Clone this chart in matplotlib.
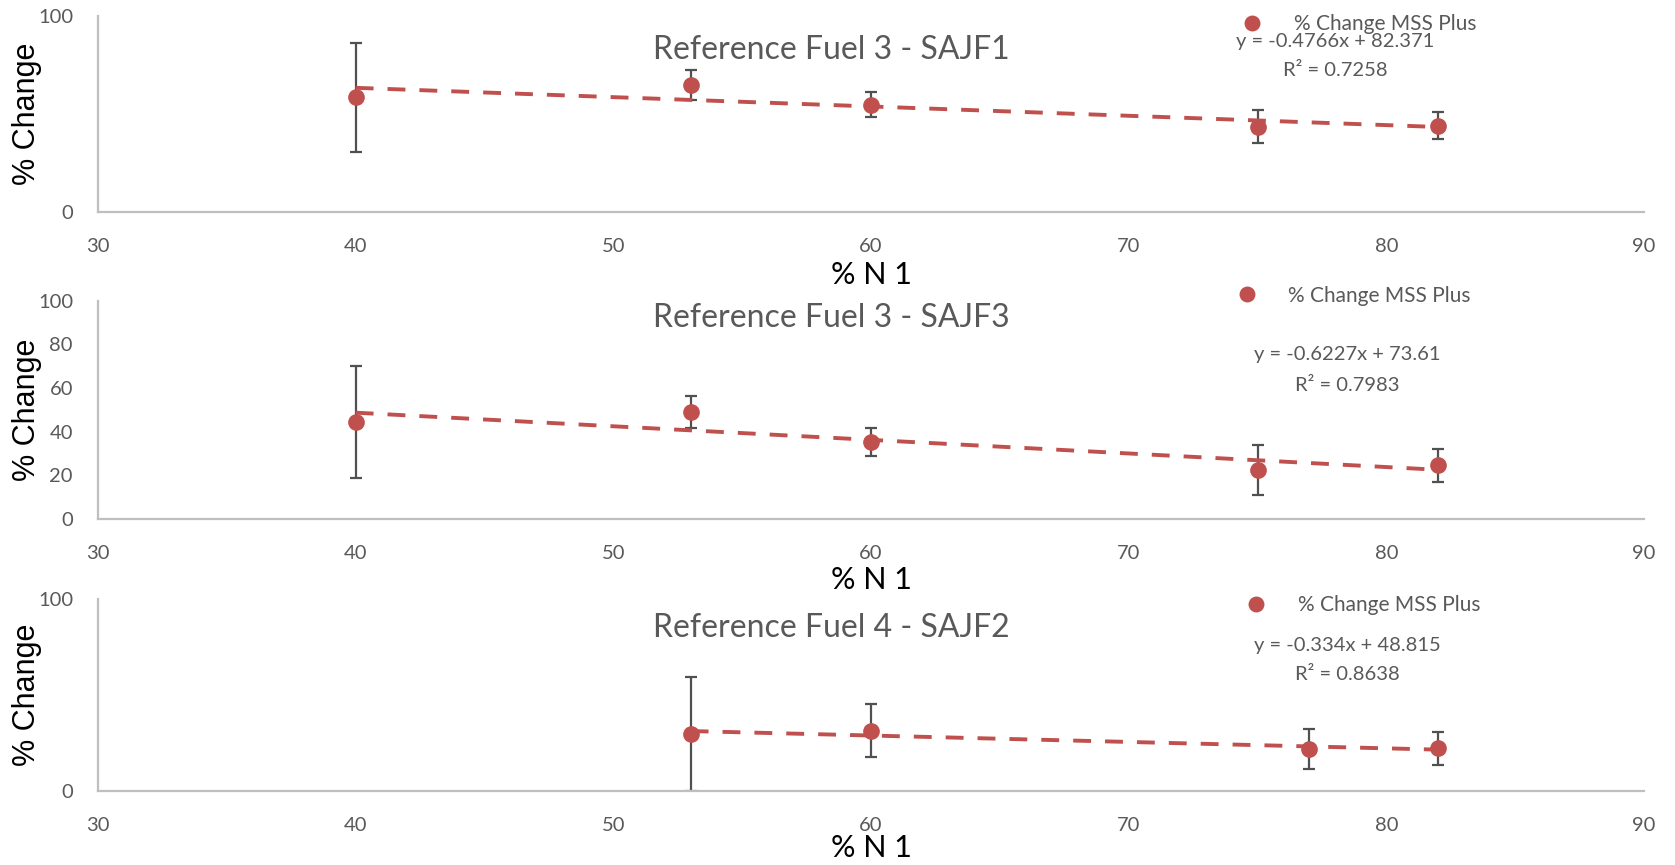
import matplotlib
matplotlib.use("Agg")
import matplotlib.pyplot as plt
import numpy as np

# ---------------- data ----------------
titles = ["Reference Fuel 3 - SAJF1", "Reference Fuel 3 - SAJF3", "Reference Fuel 4 - SAJF2"]

x1 = [40, 53, 60, 75, 82]
y1 = [58.4, 64.8, 54.6, 43.4, 43.8]
e1 = [28.0, 7.6, 6.4, 8.4, 6.9]

x2 = [40, 53, 60, 75, 82]
y2 = [44.6, 48.9, 35.1, 22.4, 24.6]
e2 = [25.7, 7.4, 6.4, 11.5, 7.5]

x3 = [53, 60, 77, 82]
y3 = [29.6, 31.3, 21.7, 22.1]
e3 = [29.5, 13.7, 10.4, 8.6]

slopes = [-0.4766, -0.6227, -0.334]
intercepts = [82.371, 73.61, 48.815]
eq_labels = ["y = -0.4766x + 82.371", "y = -0.6227x + 73.61", "y = -0.334x + 48.815"]
r2_labels = ["R² = 0.7258", "R² = 0.7983", "R² = 0.8638"]

yticks_list = [[0, 100], [0, 20, 40, 60, 80, 100], [0, 100]]
xticks = [30, 40, 50, 60, 70, 80, 90]
series_name = "% Change MSS Plus"
xlabel = "% N 1"
ylabel = "% Change"

# ---------------- style ----------------
RED = "#C0504D"
GRAY = "#595959"
AXC = "#BFBFBF"
CAL = ["Lato", "DejaVu Sans"]
W, H = 1675, 865
fig = plt.figure(figsize=(W / 100, H / 100), dpi=100)

# axes boxes in pixels: (left, top, right, bottom)
boxes = [(98, 16, 1644, 211.7), (98, 300.7, 1644, 519), (98, 599, 1644, 790.7)]
title_y = [50, 318, 628]
xlabel_base = [284, 589, 857]
leg_y = [24, 295.5, 605]
leg_x = [1252, 1246.5, 1256]
eq_pos = [(1335, 41.7), (1347, 355), (1347, 646)]
r2_pos = [(1335.5, 70), (1347.5, 385), (1347.5, 674)]

data = [(x1, y1, e1), (x2, y2, e2), (x3, y3, e3)]

for i, (xs, ys, es) in enumerate(data):
    l, t, r, b = boxes[i]
    ax = fig.add_axes([l / W, 1 - b / H, (r - l) / W, (b - t) / H])
    ax.set_xlim(30, 90)
    ax.set_ylim(0, 100)
    ax.set_xticks(xticks)
    ax.set_yticks(yticks_list[i])
    for s in ["top", "right"]:
        ax.spines[s].set_visible(False)
    for s in ["left", "bottom"]:
        ax.spines[s].set_color(AXC)
        ax.spines[s].set_linewidth(1.6)
    ax.tick_params(axis="both", length=0, colors=GRAY, labelsize=14.5)
    ax.tick_params(axis="x", pad=19)
    ax.tick_params(axis="y", pad=18)
    for lab in ax.get_xticklabels() + ax.get_yticklabels():
        lab.set_family(CAL)
    ax.patch.set_alpha(0)

    ax.errorbar(xs, ys, yerr=es, fmt="none", ecolor="#505050", elinewidth=1.6,
                capsize=4.5, capthick=1.6, zorder=2)
    h = ax.plot(xs, ys, "o", color=RED, markersize=11, zorder=3, label=series_name)[0]
    xx = np.array([min(xs), max(xs)], dtype=float)
    ax.plot(xx, slopes[i] * xx + intercepts[i], linestyle=(0, (4.6, 3.6)), color=RED,
            linewidth=2.8, zorder=4)

    # title
    fig.text(831.5 / W, 1 - title_y[i] / H, titles[i], ha="center", va="center",
             fontsize=23, color=GRAY, family=CAL)
    # x label
    fig.text(871 / W, 1 - xlabel_base[i] / H, xlabel, ha="center", va="baseline",
             fontsize=22, color="black", family=CAL)
    # y label
    fig.text(27 / W, 1 - ((t + b) / 2) / H, ylabel, ha="center", va="center",
             rotation=90, fontsize=22, color="black", family=["Liberation Sans", "DejaVu Sans"])
    # legend
    fs = 15
    em = fs * 100 / 72
    leg = ax.legend(handles=[h], loc="center left",
                    bbox_to_anchor=((leg_x[i] - em * 0.5) / W, 1 - leg_y[i] / H),
                    bbox_transform=fig.transFigure, frameon=False, borderpad=0,
                    borderaxespad=0, handlelength=1.0, handletextpad=1.5,
                    prop={"family": CAL, "size": fs}, markerscale=0.95)
    for txt in leg.get_texts():
        txt.set_color(GRAY)
    # equation
    fig.text(eq_pos[i][0] / W, 1 - eq_pos[i][1] / H, eq_labels[i], ha="center", va="center",
             fontsize=14.5, color=GRAY, family=CAL)
    fig.text(r2_pos[i][0] / W, 1 - r2_pos[i][1] / H, r2_labels[i], ha="center", va="center",
             fontsize=14.5, color=GRAY, family=CAL)

fig.savefig("out.png", dpi=100)
